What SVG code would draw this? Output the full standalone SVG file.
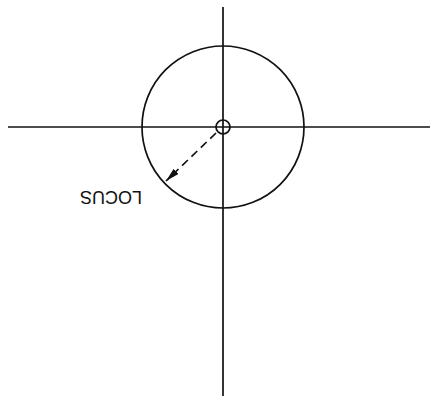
<svg xmlns="http://www.w3.org/2000/svg" width="430" height="396" viewBox="0 0 430 396">
<style>
.ln{stroke:#111;stroke-width:1.7;fill:none}
.lbl{font-family:"Liberation Sans",Arial,sans-serif;font-size:18px;fill:#111}
</style>
<defs>
<marker id="ah" viewBox="0 0 14 7" refX="14" refY="3.5" markerWidth="14" markerHeight="7" markerUnits="userSpaceOnUse" orient="auto">
<path d="M0,0 L14,3.5 L0,7 Z" fill="#111"/>
</marker>
</defs>
<rect width="430" height="396" fill="#fff"/>
<g id="axes">
<line class="ln" x1="223" y1="7" x2="223" y2="396"/>
<line class="ln" x1="8" y1="127" x2="430" y2="127"/>
</g>
<g id="locus-circle">
<circle class="ln" cx="223" cy="127" r="81"/>
</g>
<g id="center">
<circle class="ln" cx="223" cy="127" r="7"/>
</g>
<g id="connectors">
<line class="ln" x1="216" y1="133" x2="166" y2="181" stroke-dasharray="8,5" marker-end="url(#ah)"/>
</g>
<g id="label">
<text class="lbl" x="111" y="204" text-anchor="middle" transform="rotate(180 111 197.5)">LOCUS</text>
</g>
</svg>
